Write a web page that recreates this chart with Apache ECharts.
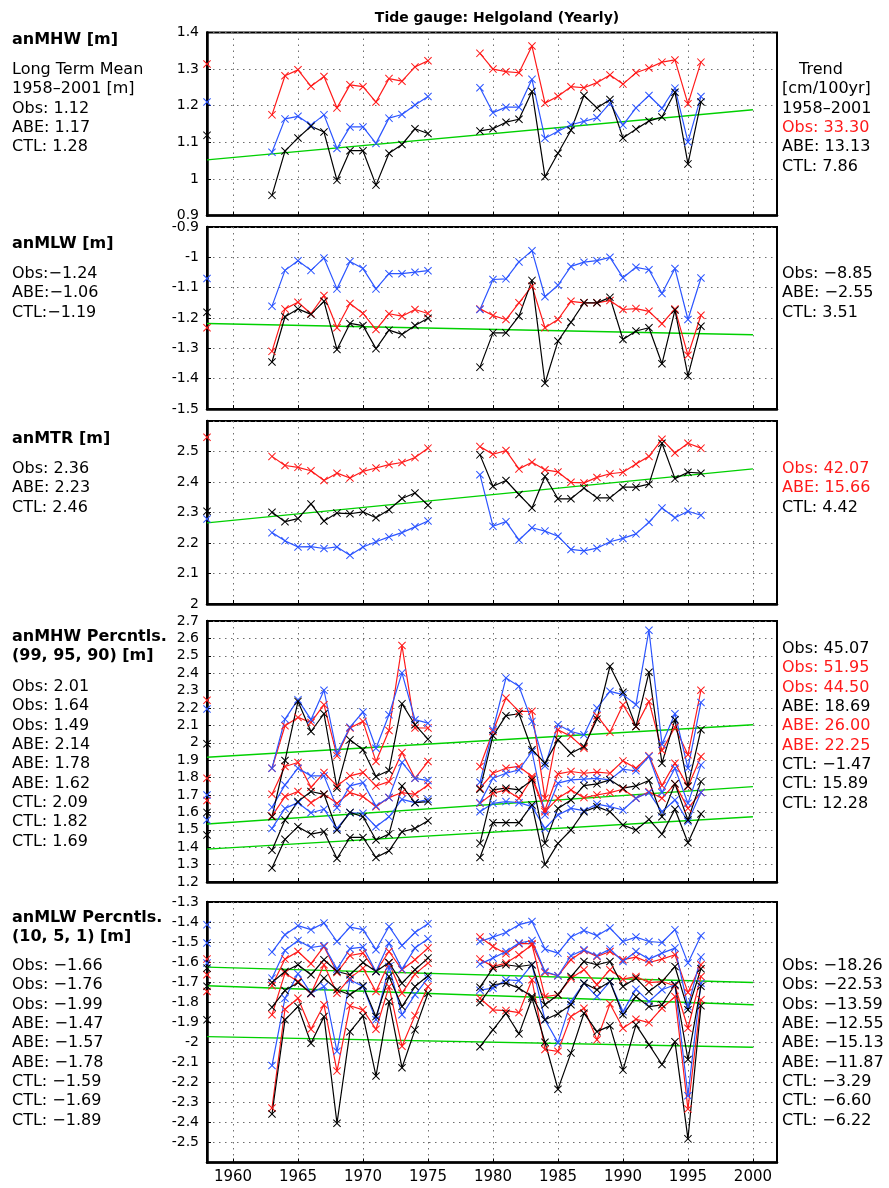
<!DOCTYPE html>
<html><head><meta charset="utf-8">
<script src="https://cdn.jsdelivr.net/npm/echarts@6/dist/echarts.min.js"></script>
<style>html,body{margin:0;padding:0;background:#fff}#c{width:889px;height:1188px}</style>
</head><body><div id="c"></div><script>
// ---- years with data (gaps 1959-1962, 1976-1978) ----
const yrs = [1958,1963,1964,1965,1966,1967,1968,1969,1970,1971,1972,1973,1974,1975,
  1979,1980,1981,1982,1983,1984,1985,1986,1987,1988,1989,1990,1991,1992,1993,1994,1995,1996];
const xTicks = [1960,1965,1970,1975,1980,1985,1990,1995,2000];
const title = 'Tide gauge: Helgoland (Yearly)';

// ---- panel 1: anMHW ----
const p1Obs = [1.119, 0.955,1.076,1.112,1.144,1.128,0.996,1.077,1.077,0.983,1.070,1.094,1.137,1.124, 1.131,1.137,1.155,1.163,1.239,1.006,1.070,1.133,1.228,1.194,1.217,1.112,1.136,1.158,1.169,1.237,1.041,1.210];
const p1Abe = [1.210, 1.073,1.164,1.171,1.147,1.175,1.083,1.142,1.142,1.097,1.166,1.176,1.202,1.225, 1.249,1.181,1.196,1.196,1.272,1.111,1.130,1.148,1.157,1.167,1.207,1.147,1.194,1.228,1.193,1.248,1.101,1.225];
const p1Ctl = [1.314, 1.175,1.282,1.298,1.253,1.280,1.194,1.257,1.252,1.210,1.274,1.267,1.306,1.323, 1.343,1.300,1.293,1.290,1.363,1.207,1.226,1.252,1.249,1.263,1.284,1.259,1.290,1.303,1.319,1.325,1.205,1.319];
const p1Trend = [[1958,1.052],[2000,1.189]];

// ---- panel 2: anMLW ----
const p2Obs = [-1.181, -1.345,-1.196,-1.170,-1.188,-1.145,-1.304,-1.218,-1.225,-1.301,-1.240,-1.254,-1.225,-1.201, -1.362,-1.249,-1.249,-1.194,-1.076,-1.415,-1.276,-1.214,-1.150,-1.150,-1.132,-1.271,-1.243,-1.232,-1.351,-1.174,-1.391,-1.227];
const p2Abe = [-1.070, -1.161,-1.043,-1.011,-1.043,-1.002,-1.104,-1.014,-1.037,-1.104,-1.054,-1.054,-1.049,-1.044, -1.172,-1.073,-1.071,-1.015,-0.978,-1.130,-1.092,-1.030,-1.016,-1.011,-1.000,-1.067,-1.033,-1.041,-1.119,-1.037,-1.205,-1.068];
const p2Ctl = [-1.232, -1.310,-1.170,-1.148,-1.186,-1.126,-1.232,-1.152,-1.185,-1.238,-1.186,-1.194,-1.172,-1.185, -1.170,-1.192,-1.205,-1.150,-1.095,-1.232,-1.205,-1.145,-1.150,-1.150,-1.142,-1.172,-1.169,-1.178,-1.219,-1.170,-1.323,-1.191];
const p2Trend = [[1958,-1.218],[2000,-1.255]];

// ---- panel 3: anMTR ----
const p3Obs = [2.304, 2.301,2.270,2.280,2.328,2.272,2.298,2.296,2.302,2.283,2.309,2.346,2.364,2.324, 2.489,2.386,2.405,2.359,2.315,2.418,2.345,2.345,2.380,2.348,2.348,2.383,2.383,2.393,2.527,2.411,2.432,2.429];
const p3Abe = [2.279, 2.234,2.207,2.187,2.188,2.182,2.187,2.160,2.187,2.204,2.220,2.234,2.253,2.272, 2.424,2.255,2.270,2.210,2.250,2.239,2.222,2.179,2.174,2.183,2.204,2.215,2.230,2.268,2.315,2.283,2.304,2.291];
const p3Ctl = [2.547, 2.484,2.454,2.448,2.437,2.405,2.429,2.413,2.435,2.446,2.457,2.464,2.480,2.511, 2.516,2.491,2.503,2.443,2.465,2.440,2.433,2.399,2.397,2.415,2.427,2.432,2.459,2.484,2.540,2.495,2.527,2.511];
const p3Trend = [[1958,2.266],[2000,2.443]];

// ---- panel 4: anMHW percentiles 99/95/90 ----
const p4Obs99 = [1.994, 1.575,1.898,2.238,2.065,2.167,1.739,2.017,1.960,1.806,1.841,2.225,2.104,2.021, 1.733,2.040,2.156,2.167,1.960,1.883,2.017,1.940,1.979,2.136,2.440,2.290,2.094,2.405,1.883,2.133,1.752,2.075];
const p4Obs95 = [1.600, 1.383,1.556,1.662,1.720,1.704,1.499,1.600,1.575,1.441,1.475,1.752,1.656,1.662, 1.422,1.729,1.739,1.729,1.787,1.422,1.623,1.671,1.754,1.764,1.787,1.739,1.752,1.783,1.575,1.764,1.556,1.777];
const p4Obs90 = [1.470, 1.280,1.445,1.518,1.475,1.489,1.335,1.456,1.456,1.341,1.379,1.489,1.508,1.552, 1.341,1.541,1.541,1.541,1.643,1.300,1.422,1.499,1.604,1.633,1.604,1.527,1.499,1.560,1.475,1.618,1.426,1.591];
const p4Abe99 = [2.194, 1.854,2.136,2.248,2.133,2.302,1.940,2.090,2.177,1.969,2.161,2.402,2.133,2.113, 1.773,2.075,2.373,2.325,2.123,1.867,2.104,2.065,2.046,2.200,2.296,2.277,2.219,2.647,1.992,2.167,1.854,2.232];
const p4Abe95 = [1.700, 1.629,1.758,1.854,1.810,1.810,1.627,1.752,1.771,1.637,1.685,1.887,1.796,1.783, 1.656,1.796,1.825,1.844,1.950,1.585,1.768,1.787,1.791,1.796,1.787,1.848,1.839,1.921,1.714,1.854,1.652,1.873];
const p4Abe90 = [1.556, 1.508,1.623,1.656,1.598,1.618,1.508,1.598,1.595,1.518,1.575,1.675,1.656,1.675, 1.604,1.652,1.662,1.656,1.633,1.508,1.585,1.623,1.610,1.648,1.633,1.614,1.681,1.714,1.604,1.671,1.547,1.714];
const p4Ctl99 = [2.244, 1.854,2.098,2.146,2.117,2.219,1.925,2.085,2.123,1.892,2.071,2.559,2.085,2.085, 1.864,2.065,2.257,2.181,2.181,1.681,2.075,2.037,1.969,2.156,2.060,2.219,2.094,2.238,1.956,2.090,1.931,2.302];
const p4Ctl95 = [1.796, 1.704,1.864,1.887,1.744,1.829,1.752,1.810,1.829,1.752,1.777,1.944,1.796,1.892, 1.739,1.825,1.854,1.864,1.806,1.614,1.821,1.835,1.825,1.831,1.825,1.896,1.854,1.925,1.754,1.883,1.748,1.921];
const p4Ctl90 = [1.668, 1.579,1.691,1.720,1.656,1.704,1.652,1.714,1.691,1.633,1.685,1.714,1.704,1.758, 1.652,1.710,1.729,1.681,1.796,1.604,1.681,1.729,1.685,1.700,1.714,1.733,1.681,1.719,1.681,1.764,1.623,1.714];
const p4Trend99 = [[1958,1.917],[2000,2.104]];
const p4Trend95 = [[1958,1.533],[2000,1.748]];
const p4Trend90 = [[1958,1.389],[2000,1.575]];

// ---- panel 5: anMLW percentiles 10/5/1 ----
const p5Obs10 = [-1.630, -1.702,-1.647,-1.613,-1.663,-1.588,-1.647,-1.663,-1.602,-1.647,-1.602,-1.705,-1.638,-1.580, -1.725,-1.630,-1.613,-1.622,-1.613,-1.813,-1.763,-1.672,-1.597,-1.613,-1.597,-1.722,-1.680,-1.747,-1.697,-1.622,-1.838,-1.633];
const p5Obs5 = [-1.720, -1.825,-1.742,-1.702,-1.755,-1.680,-1.738,-1.763,-1.718,-1.872,-1.672,-1.822,-1.722,-1.668, -1.802,-1.713,-1.705,-1.730,-1.772,-1.888,-1.858,-1.813,-1.705,-1.738,-1.697,-1.863,-1.772,-1.822,-1.813,-1.713,-2.086,-1.720];
const p5Obs1 = [-1.888, -2.358,-1.888,-1.822,-2.005,-1.872,-2.404,-1.947,-1.868,-2.168,-1.797,-2.127,-1.938,-1.755, -2.022,-1.938,-1.855,-1.958,-1.780,-2.000,-2.234,-2.053,-1.855,-1.947,-1.918,-2.139,-1.913,-2.012,-2.111,-1.997,-2.482,-1.818];
const p5Abe10 = [-1.413, -1.550,-1.463,-1.418,-1.438,-1.405,-1.497,-1.425,-1.438,-1.538,-1.422,-1.517,-1.452,-1.408, -1.497,-1.475,-1.452,-1.413,-1.397,-1.535,-1.555,-1.475,-1.442,-1.468,-1.430,-1.497,-1.475,-1.497,-1.502,-1.438,-1.605,-1.468];
const p5Abe5 = [-1.505, -1.680,-1.542,-1.492,-1.527,-1.518,-1.635,-1.533,-1.525,-1.647,-1.505,-1.635,-1.530,-1.483, -1.610,-1.580,-1.547,-1.505,-1.492,-1.647,-1.668,-1.568,-1.538,-1.568,-1.535,-1.597,-1.547,-1.585,-1.555,-1.530,-1.822,-1.575];
const p5Abe1 = [-1.605, -2.116,-1.780,-1.658,-1.755,-1.722,-2.045,-1.688,-1.722,-1.888,-1.622,-1.863,-1.763,-1.680, -1.740,-1.730,-1.688,-1.692,-1.613,-1.888,-2.002,-1.797,-1.705,-1.772,-1.697,-1.847,-1.735,-1.797,-1.738,-1.713,-2.267,-1.705];
const p5Ctl10 = [-1.585, -1.718,-1.585,-1.547,-1.608,-1.522,-1.652,-1.567,-1.555,-1.647,-1.547,-1.638,-1.588,-1.530, -1.475,-1.522,-1.558,-1.508,-1.508,-1.652,-1.668,-1.588,-1.542,-1.572,-1.547,-1.588,-1.575,-1.602,-1.585,-1.563,-1.752,-1.613];
const p5Ctl5 = [-1.663, -1.863,-1.655,-1.697,-1.758,-1.613,-1.755,-1.680,-1.630,-1.747,-1.605,-1.755,-1.660,-1.605, -1.585,-1.622,-1.605,-1.563,-1.513,-1.772,-1.763,-1.680,-1.638,-1.713,-1.638,-1.685,-1.672,-1.702,-1.697,-1.718,-1.930,-1.672];
const p5Ctl1 = [-1.747, -2.328,-1.835,-1.780,-1.935,-1.813,-2.144,-1.818,-1.838,-1.935,-1.722,-2.020,-1.867,-1.722, -1.780,-1.838,-1.842,-1.852,-1.688,-2.036,-2.045,-1.872,-1.830,-1.988,-1.808,-1.930,-1.885,-1.902,-1.830,-1.772,-2.333,-1.788];
const p5Trend10 = [[1958,-1.625],[2000,-1.702]];
const p5Trend5 = [[1958,-1.718],[2000,-1.813]];
const p5Trend1 = [[1958,-1.972],[2000,-2.025]];

// ---- side texts ----
const p1Head = ['anMHW [m]'];
const p1Left = ['Long Term Mean','1958\u20132001 [m]','Obs: 1.12','ABE: 1.17','CTL: 1.28'];
const p1Right = ['Trend','[cm/100yr]','1958\u20132001','Obs: 33.30','ABE: 13.13','CTL: 7.86'];
const p1RightRed = [false,false,false,true,false,false];
const p2Head = ['anMLW [m]'];
const p2Left = ['Obs:\u22121.24','ABE:\u22121.06','CTL:\u22121.19'];
const p2Right = ['Obs: \u22128.85','ABE: \u22122.55','CTL: 3.51'];
const p2RightRed = [false,false,false];
const p3Head = ['anMTR [m]'];
const p3Left = ['Obs: 2.36','ABE: 2.23','CTL: 2.46'];
const p3Right = ['Obs: 42.07','ABE: 15.66','CTL: 4.42'];
const p3RightRed = [true,true,false];
const p4Head = ['anMHW Percntls.','(99, 95, 90) [m]'];
const p4Left = ['Obs: 2.01','Obs: 1.64','Obs: 1.49','ABE: 2.14','ABE: 1.78','ABE: 1.62','CTL: 2.09','CTL: 1.82','CTL: 1.69'];
const p4Right = ['Obs: 45.07','Obs: 51.95','Obs: 44.50','ABE: 18.69','ABE: 26.00','ABE: 22.25','CTL: \u22121.47','CTL: 15.89','CTL: 12.28'];
const p4RightRed = [false,true,true,false,true,true,false,false,false];
const p5Head = ['anMLW Percntls.','(10, 5, 1) [m]'];
const p5Left = ['Obs: \u22121.66','Obs: \u22121.76','Obs: \u22121.99','ABE: \u22121.47','ABE: \u22121.57','ABE: \u22121.78','CTL: \u22121.59','CTL: \u22121.69','CTL: \u22121.89'];
const p5Right = ['Obs: \u221218.26','Obs: \u221222.53','Obs: \u221213.59','ABE: \u221212.55','ABE: \u221215.13','ABE: \u221211.87','CTL: \u22123.29','CTL: \u22126.60','CTL: \u22126.22'];
const p5RightRed = [false,false,false,false,false,false,false,false,false];

// ---- styling ----
const BLACK = '#000000', BLUE = '#2c55ff', RED = '#ff1a1a', GREEN = '#00d000';
const FONT = '"DejaVu Sans", Verdana, sans-serif';
const XSYM = 'path://M0,0.9L0.9,0L5,4.1L9.1,0L10,0.9L5.9,5L10,9.1L9.1,10L5,5.9L0.9,10L0,9.1L4.1,5Z';
const GL = 207, GW = 570, XMAX = 2001.85;

const panels = [
  {top:32.5, h:183, min:0.9, max:1.4, itv:0.1,
   series:[[p1Ctl,RED],[p1Abe,BLUE],[p1Obs,BLACK]], trends:[p1Trend]},
  {top:227, h:182, min:-1.5, max:-0.9, itv:0.1,
   series:[[p2Ctl,RED],[p2Abe,BLUE],[p2Obs,BLACK]], trends:[p2Trend]},
  {top:421, h:183, min:2.0, max:2.6, itv:0.1, hideMax:true,
   series:[[p3Ctl,RED],[p3Abe,BLUE],[p3Obs,BLACK]], trends:[p3Trend]},
  {top:621, h:261, min:1.2, max:2.7, itv:0.1,
   series:[[p4Ctl99,RED],[p4Ctl95,RED],[p4Ctl90,RED],[p4Abe99,BLUE],[p4Abe95,BLUE],[p4Abe90,BLUE],[p4Obs99,BLACK],[p4Obs95,BLACK],[p4Obs90,BLACK]],
   trends:[p4Trend99,p4Trend95,p4Trend90]},
  {top:902, h:260.5, min:-2.6, max:-1.3, itv:0.1, hideMin:true, xlab:true,
   series:[[p5Ctl10,RED],[p5Ctl5,RED],[p5Ctl1,RED],[p5Abe10,BLUE],[p5Abe5,BLUE],[p5Abe1,BLUE],[p5Obs10,BLACK],[p5Obs5,BLACK],[p5Obs1,BLACK]],
   trends:[p5Trend10,p5Trend5,p5Trend1]}
];

function toData(vals){
  const out = [];
  yrs.forEach((y,i)=>{
    if (i>0 && y - yrs[i-1] > 1) out.push([y-1, null]);
    out.push([y, vals[i]]);
  });
  return out;
}

const grids=[], xAxes=[], yAxes=[], series=[];
panels.forEach((p,i)=>{
  grids.push({left:GL, width:GW, top:p.top, height:p.h, show:true, borderColor:'#000', borderWidth:2, backgroundColor:'transparent'});
  xAxes.push({type:'value', gridIndex:i, min:1958, max:XMAX,
    axisLine:{show:true, onZero:false, lineStyle:{color:'#000', width:2.5}},
    axisTick:{show:true, inside:true, length:4, customValues:xTicks, lineStyle:{color:'#000'}},
    axisLabel:{show:!!p.xlab, customValues:xTicks, color:'#000', fontSize:15, fontFamily:FONT, margin:7,
      formatter:v=>String(Math.round(v))},
    splitLine:{show:true, lineStyle:{color:'#6e6e6e', width:1, type:[1.5,4.5]}}
  });
  yAxes.push({type:'value', gridIndex:i, min:p.min, max:p.max, interval:p.itv,
    axisLine:{show:true, onZero:false, lineStyle:{color:'#000', width:2.5}},
    axisTick:{show:true, inside:true, length:4, lineStyle:{color:'#000'}},
    axisLabel:{color:'#000', fontSize:14, fontFamily:FONT, margin:8,
      showMaxLabel: p.hideMax ? false : true, showMinLabel: p.hideMin ? false : true,
      formatter:v=>String(Math.round(v*10)/10)},
    splitLine:{show:true, lineStyle:{color:'#6e6e6e', width:1, type:[1.5,4.5]}}
  });
  p.trends.forEach(t=>{
    series.push({type:'line', xAxisIndex:i, yAxisIndex:i, data:t, showSymbol:false, symbol:'none',
      lineStyle:{color:GREEN, width:1.4}, silent:true, animation:false, z:2});
  });
  p.series.forEach(([vals,col])=>{
    series.push({type:'line', xAxisIndex:i, yAxisIndex:i, data:toData(vals), connectNulls:false,
      symbol:XSYM, symbolSize:8, showAllSymbol:true, lineStyle:{color:col, width:1.2}, itemStyle:{color:col},
      animation:false, silent:true, z:3});
  });
});

const graphics = [];
function txt(x,y,s,opts){
  opts = opts||{};
  graphics.push({type:'text', x:x, y:y, silent:true, style:{text:s, fill:opts.color||'#000',
    font:(opts.bold?'bold ':'')+(opts.size||16)+'px '+FONT, align:opts.align||'left', verticalAlign:'middle'}});
}
function col(x,y0,arr,reds,step,bold){
  arr.forEach((s,k)=>txt(x, y0+k*step, s, {color: reds && reds[k] ? RED : '#000', bold:bold}));
}
const STEP = 19.3, LX = 12, RX = 782;
txt(497, 18, title, {align:'center', size:14, bold:true});
// panel 1
col(LX, 40, p1Head, null, STEP, true);
col(LX, 70, p1Left, null, STEP);
txt(821, 70, p1Right[0], {align:'center'});
col(RX, 89.3, p1Right.slice(1), p1RightRed.slice(1), STEP);
// panel 2
col(LX, 244, p2Head, null, STEP, true);
col(LX, 274, p2Left, null, STEP);
col(RX, 274, p2Right, p2RightRed, STEP);
// panel 3
col(LX, 439, p3Head, null, STEP, true);
col(LX, 469, p3Left, null, STEP);
col(RX, 469, p3Right, p3RightRed, STEP);
// panel 4
col(LX, 637, p4Head, null, STEP, true);
col(LX, 687, p4Left, null, STEP);
col(RX, 649, p4Right, p4RightRed, STEP);
// panel 5
col(LX, 918, p5Head, null, STEP, true);
col(LX, 966, p5Left, null, STEP);
col(RX, 966, p5Right, p5RightRed, STEP);

const chart = echarts.init(document.getElementById('c'), null, {renderer:'canvas'});
chart.setOption({
  backgroundColor:'#fff', animation:false,
  grid:grids, xAxis:xAxes, yAxis:yAxes, series:series, graphic:graphics
});
</script></body></html>
